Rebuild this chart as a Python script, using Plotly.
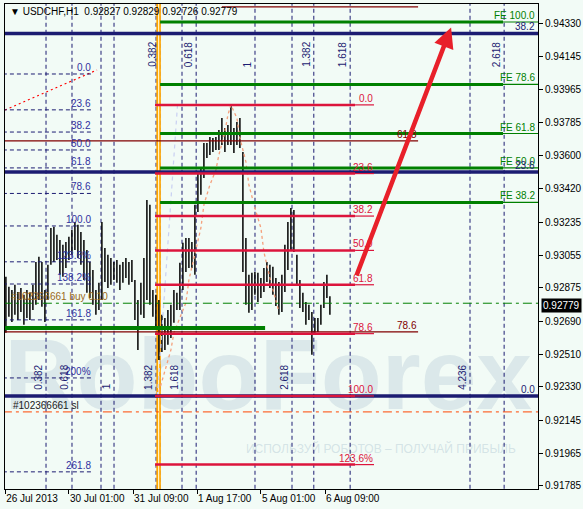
import plotly.graph_objects as go

# ---------------- data ----------------
bar_high = [0.92935, 0.92880, 0.92863, 0.92891, 0.92852, 0.92874, 0.92836, 0.92863, 0.92847, 0.92891,
            0.93017, 0.93045, 0.93017, 0.92863, 0.93001, 0.93204, 0.93210, 0.93166, 0.93138, 0.93111,
            0.93127, 0.93155, 0.93193, 0.93237, 0.93221, 0.93182, 0.93138, 0.93083, 0.93017, 0.92973,
            0.92863, 0.92902, 0.93237, 0.93094, 0.93056, 0.93039, 0.93017, 0.93028, 0.93001, 0.93017,
            0.93039, 0.93017, 0.93028, 0.92918, 0.92808, 0.92902, 0.93039, 0.93358, 0.93331, 0.92863,
            0.92836, 0.92808, 0.92726, 0.92709, 0.92753, 0.92781, 0.92863, 0.92847, 0.93012, 0.93122,
            0.93149, 0.93149, 0.93127, 0.93331, 0.93512, 0.93534, 0.93672, 0.93672, 0.93705, 0.93699,
            0.93705, 0.93743, 0.93809, 0.93754, 0.93771, 0.93880, 0.93754, 0.93787, 0.93809, 0.93622,
            0.93149, 0.92946, 0.92957, 0.92962, 0.92957, 0.92929, 0.92984, 0.93017, 0.93001, 0.92990,
            0.92929, 0.92907, 0.92946, 0.93111, 0.93237, 0.93314, 0.93303, 0.93056, 0.92918, 0.92847,
            0.92797, 0.92781, 0.92742, 0.92709, 0.92709, 0.92781, 0.92907, 0.92946, 0.92829]
bar_low = [0.92627, 0.92715, 0.92687, 0.92726, 0.92698, 0.92742, 0.92671, 0.92709, 0.92698, 0.92753,
           0.92781, 0.92808, 0.92770, 0.92687, 0.92808, 0.93001, 0.93017, 0.93028, 0.92946, 0.92935,
           0.92984, 0.93028, 0.93056, 0.93083, 0.93039, 0.93001, 0.92918, 0.92847, 0.92819, 0.92781,
           0.92726, 0.92753, 0.92808, 0.92907, 0.92874, 0.92891, 0.92918, 0.92902, 0.92863, 0.92902,
           0.92929, 0.92891, 0.92907, 0.92698, 0.92533, 0.92726, 0.92709, 0.92808, 0.92781, 0.92715,
           0.92643, 0.92478, 0.92522, 0.92533, 0.92561, 0.92599, 0.92682, 0.92753, 0.92753, 0.92863,
           0.92962, 0.92984, 0.92984, 0.92946, 0.93292, 0.93386, 0.93479, 0.93589, 0.93606, 0.93622,
           0.93633, 0.93633, 0.93661, 0.93622, 0.93661, 0.93661, 0.93617, 0.93661, 0.93644, 0.92962,
           0.92781, 0.92737, 0.92753, 0.92836, 0.92797, 0.92819, 0.92852, 0.92907, 0.92874, 0.92836,
           0.92775, 0.92726, 0.92742, 0.92852, 0.92973, 0.93083, 0.93072, 0.92891, 0.92764, 0.92742,
           0.92671, 0.92698, 0.92506, 0.92627, 0.92632, 0.92671, 0.92764, 0.92819, 0.92726]

time_tick_pos = [-0.25, 21.03, 42.37, 63.7, 85.03, 106.37]
time_tick_text = ["26 Jul 2013", "30 Jul 01:00", "31 Jul 09:00", "1 Aug 17:00", "5 Aug 01:00", "6 Aug 09:00"]
price_ticks = [0.94330, 0.94145, 0.93965, 0.93785, 0.93600, 0.93420, 0.93235, 0.93055,
               0.92875, 0.92690, 0.92510, 0.92330, 0.92145, 0.91965, 0.91785]
last_price = 0.92779
title_text = "▼ USDCHF,H1  0.92827 0.92829 0.92726 0.92779"

# crimson Fibonacci retracement
red_fib_0, red_fib_100 = 0.93881, 0.92280
red_fib_ratios = [0.0, 23.6, 38.2, 50.0, 61.8, 78.6, 100.0, 123.6]
red_fib_labels = ["0.0", "23.6", "38.2", "50.0", "61.8", "78.6", "100.0", "123.6%"]
red_fib_time = [49.7, 116.4, 122.7]

# navy Fibonacci retracement (solid)
navy_fib_0, navy_fib_100 = 0.92280, 0.97500
navy_fib_ratios = [0.0, 23.6, 38.2]
navy_fib_labels = ["0.0", "23.6", "38.2"]

# green Fibonacci expansion
fe_0, fe_100 = 0.92731, 0.94337
fe_ratios = [38.2, 50.0, 61.8, 78.6, 100.0]
fe_labels = ["FE 38.2", "FE 50.0", "FE 61.8", "FE 78.6", "FE 100.0"]
fe_time = [51.4, 165.7]

# left dashed Fibonacci
lf_0, lf_100 = 0.94051, 0.93215
lf_ratios = [0.0, 23.6, 38.2, 50.0, 61.8, 78.6, 100.0, 123.6, 138.2, 161.8, 200.0, 261.8]
lf_labels = ["0.0", "23.6", "38.2", "50.0", "61.8", "78.6", "100.0", "123.6%", "138.2%", "161.8", "200%", "261.8"]
lf_time_end = 29.0
lf_trend_t = [-0.3, 30.37]
lf_trend_p = [0.93853, 0.94073]

# maroon levels
maroon_prices = [0.94420, 0.93683, 0.92632]
maroon_labels = ["", "61.8", "78.6"]
maroon_start = [72.0, -1.0, -1.0]
maroon_end = 137.4

green_band_price = 0.92654
green_band_end = 86.4

# Fibonacci time zones
tz_ratios = [0.382, 0.618, 1.0, 1.382, 1.618, 2.618, 4.236]
tz_labels = ["0.382", "0.618", "1", "1.382", "1.618", "2.618", "4.236"]
tz_low_start, tz_low_unit = -0.63, 36.67
tz_up_ratios = [0.0, 0.382, 0.618, 1.0, 1.382, 1.618, 2.618]
tz_up_labels = ["", "0.382", "0.618", "1", "1.382", "1.618", "2.618"]
tz_up_start, tz_up_unit = 31.7, 51.33

orange_time = 50.9
lavender_t = [50.5, 57.2]
lavender_p = [0.92280, 0.93881]

zz_t = [51, 53, 55, 56, 58, 60, 61, 63, 65, 66, 68, 70, 71, 73, 74, 75, 77, 78, 80, 81, 83, 85, 86, 88, 90, 91]
zz_p = [0.92302, 0.92423, 0.92533, 0.92627, 0.92709, 0.92793, 0.92918, 0.93056, 0.93204, 0.93331,
        0.93441, 0.93523, 0.93606, 0.93732, 0.93826, 0.93881, 0.93809, 0.93699, 0.93568, 0.93441,
        0.93314, 0.93204, 0.93072, 0.92929, 0.92808, 0.92742]

order_buy_price = 0.92790
order_sl_price = 0.92192
arrow_tail = (116.7, 0.92935)
arrow_tip = (148.4, 0.94307)

# ---------------- figure ----------------
FONT = "Liberation Sans"
X0, X1 = -0.3, 177.37
Y0, Y1 = 0.91768, 0.94436
NAVY = "#1c1c72"
RED = "#dc143c"
GREEN = "#008000"
MAROON = "#800000"

fig = go.Figure()

# watermark
fig.add_trace(go.Scatter(x=[87.4], y=[0.92345], mode="text", text=["RoboForex"],
                         textfont=dict(family="Liberation Sans Narrow, Liberation Sans", size=100,
                                       color="rgba(165,190,205,0.3)", weight="bold"),
                         hoverinfo="skip", showlegend=False))
fig.add_trace(go.Scatter(x=[125.0], y=[0.91985], mode="text",
                         text=["ИСПОЛЬЗУЙ РОБОТОВ – ПОЛУЧАЙ ПРИБЫЛЬ"],
                         textfont=dict(family=FONT, size=12, color="rgba(165,190,205,0.4)"),
                         hoverinfo="skip", showlegend=False))


def segs(x0s, x1s, ys0, ys1, color, width, dash="solid"):
    xs, ys = [], []
    for a, b, c, d in zip(x0s, x1s, ys0, ys1):
        xs += [a, b, None]
        ys += [c, d, None]
    fig.add_trace(go.Scatter(x=xs, y=ys, mode="lines", line=dict(color=color, width=width, dash=dash),
                             hoverinfo="skip", showlegend=False))


def label(x, y, text, color, xanchor="right", yanchor="bottom", angle=0, xshift=0, yshift=0):
    fig.add_annotation(x=x, y=y, text=text, showarrow=False, xanchor=xanchor, yanchor=yanchor,
                       textangle=angle, xshift=xshift, yshift=yshift, borderpad=0,
                       font=dict(family=FONT, size=10, color=color))


# time zones (vertical dashed)
tz_low_x = [tz_low_start + r * tz_low_unit for r in tz_ratios]
tz_up_x = [tz_up_start + r * tz_up_unit for r in tz_up_ratios]
allx = tz_low_x + tz_up_x
segs(allx, allx, [Y0 - 0.01] * len(allx), [Y1 + 0.01] * len(allx), NAVY, 1, "4px,3px")

# orange vertical
segs([orange_time], [orange_time], [Y0 - 0.01], [Y1 + 0.01], "#ffa500", 4.5)
segs([orange_time], [orange_time], [Y0 - 0.01], [Y1 + 0.01], "#fff3c4", 1.2)

# bars
n = len(bar_high)
segs(list(range(n)), list(range(n)), bar_low, bar_high, "black", 1.5)

# zigzag-like salmon dashed curve
fig.add_trace(go.Scatter(x=zz_t, y=zz_p, mode="lines", line=dict(color="#f5a07c", width=1.3, dash="3px,3px"),
                         hoverinfo="skip", showlegend=False))
# lavender trend line
fig.add_trace(go.Scatter(x=lavender_t, y=lavender_p, mode="lines",
                         line=dict(color="#c9d0f2", width=1.2, dash="4px,4px"),
                         hoverinfo="skip", showlegend=False))
# left fib trendline (red dotted)
fig.add_trace(go.Scatter(x=lf_trend_t, y=lf_trend_p, mode="lines",
                         line=dict(color="#ff0000", width=1.2, dash="2px,3px"),
                         hoverinfo="skip", showlegend=False))

# left dashed fib
lf_prices = [lf_0 + (lf_100 - lf_0) * r / 100 for r in lf_ratios]
segs([-1] * len(lf_prices), [lf_time_end] * len(lf_prices), lf_prices, lf_prices, NAVY, 1, "4px,3px")

# order lines
segs([-1], [X1 + 1], [order_buy_price], [order_buy_price], GREEN, 1, "9px,4px,3px,4px")
segs([-1], [X1 + 1], [order_sl_price], [order_sl_price], "#ff4500", 1, "9px,4px,3px,4px")

# maroon lines
segs(maroon_start, [maroon_end] * 3, maroon_prices, maroon_prices, MAROON, 1.2)

# green band
segs([-1], [green_band_end], [green_band_price], [green_band_price], GREEN, 4)

# navy solid fib
navy_prices = [navy_fib_0 + (navy_fib_100 - navy_fib_0) * r / 100 for r in navy_fib_ratios]
segs([-1] * 3, [X1 + 1] * 3, navy_prices, navy_prices, NAVY, 3.5)

# FE green
fe_prices = [fe_0 + (fe_100 - fe_0) * r / 100 for r in fe_ratios]
k = len(fe_prices)
segs([fe_time[0]] * k, [fe_time[1]] * k, fe_prices, fe_prices, GREEN, 3)
segs([fe_time[1]] * k, [X1 + 1] * k, fe_prices, fe_prices, GREEN, 1.2)

# red fib
red_prices = [red_fib_0 + (red_fib_100 - red_fib_0) * r / 100 for r in red_fib_ratios]
k = len(red_prices)
segs([red_fib_time[0]] * k, [red_fib_time[1]] * k, red_prices, red_prices, RED, 2.5)
segs([red_fib_time[1]] * k, [red_fib_time[2]] * k, red_prices, red_prices, RED, 1.2)

# ---------- labels ----------
for p, t in zip(lf_prices, lf_labels):
    label(lf_time_end, p, t, "#3030a0", xshift=-1)
for p, t in zip(red_prices, red_fib_labels):
    label(red_fib_time[2], p, t, RED)
for p, t in zip(fe_prices, fe_labels):
    label(X1, p, t, GREEN, xshift=-2)
for p, t in zip(navy_prices, navy_fib_labels):
    label(X1, p, t, NAVY, xshift=-2)
for p, t in zip(maroon_prices, maroon_labels):
    if t:
        label(maroon_end, p, t, MAROON)

# time zone labels (rotated)
for x, t in zip(tz_low_x, tz_labels):
    label(x, 0.92308, t, NAVY, xanchor="right", yanchor="bottom", angle=-90, xshift=-1)
for x, t in zip(tz_up_x, tz_up_labels):
    if t:
        label(x, 0.94084, t, NAVY, xanchor="right", yanchor="bottom", angle=-90, xshift=-1)

# order labels
fig.add_annotation(x=0.009, xref="paper", y=order_buy_price, yref="y", text="#102366661 buy 0.10",
                   showarrow=False, xanchor="left", yanchor="bottom", borderpad=0,
                   font=dict(family=FONT, size=10, color="#9a6a1a"))
fig.add_annotation(x=0.013, xref="paper", y=order_sl_price, yref="y", text="#102366661 sl",
                   showarrow=False, xanchor="left", yanchor="bottom", borderpad=0,
                   font=dict(family=FONT, size=10, color="#202020"))

# title
fig.add_annotation(x=0.006, xref="paper", y=0.984, yref="paper", text=title_text, showarrow=False,
                   xanchor="left", yanchor="middle", font=dict(family=FONT, size=10, color="black"))

# current price tag
fig.add_annotation(x=1.0, xref="paper", y=last_price, yref="y", text=f"{last_price:.5f}",
                   showarrow=False, xanchor="left", yanchor="middle", xshift=3, borderpad=1,
                   bgcolor="black", font=dict(family=FONT, size=10, color="white"))

# arrow
fig.add_annotation(x=arrow_tip[0], y=arrow_tip[1], ax=arrow_tail[0], ay=arrow_tail[1],
                   xref="x", yref="y", axref="x", ayref="y", text="", showarrow=True,
                   arrowhead=2, arrowsize=0.9, arrowwidth=4.5, arrowcolor="#e8202a",
                   standoff=0, startstandoff=0)

fig.update_layout(
    width=583, height=509,
    margin=dict(l=5, r=45, t=4, b=20),
    paper_bgcolor="#f2fbf6", plot_bgcolor="#f2fbf6",
    font=dict(family=FONT, size=10, color="black"),
    showlegend=False, hovermode=False,
    xaxis=dict(range=[X0, X1], showgrid=False, zeroline=False, showline=True, mirror=True,
               linecolor="black", linewidth=1, ticks="outside", ticklen=4, tickcolor="black",
               tickvals=time_tick_pos, ticktext=time_tick_text, ticklabelposition="outside right",
               tickangle=0, automargin=False,
               tickfont=dict(family=FONT, size=10, color="black")),
    yaxis=dict(range=[Y0, Y1], side="right", showgrid=False, zeroline=False, showline=True, mirror=True,
               linecolor="black", linewidth=1, ticks="outside", ticklen=4, tickcolor="black",
               tickvals=price_ticks, ticktext=[f"{v:.5f}" for v in price_ticks], automargin=False,
               tickfont=dict(family=FONT, size=10, color="black")),
)

fig.write_html("out.html", config={"displayModeBar": False, "staticPlot": True},
               post_script="document.body.style.margin='0';document.body.style.padding='0';"
                           "document.body.style.overflow='hidden';")
